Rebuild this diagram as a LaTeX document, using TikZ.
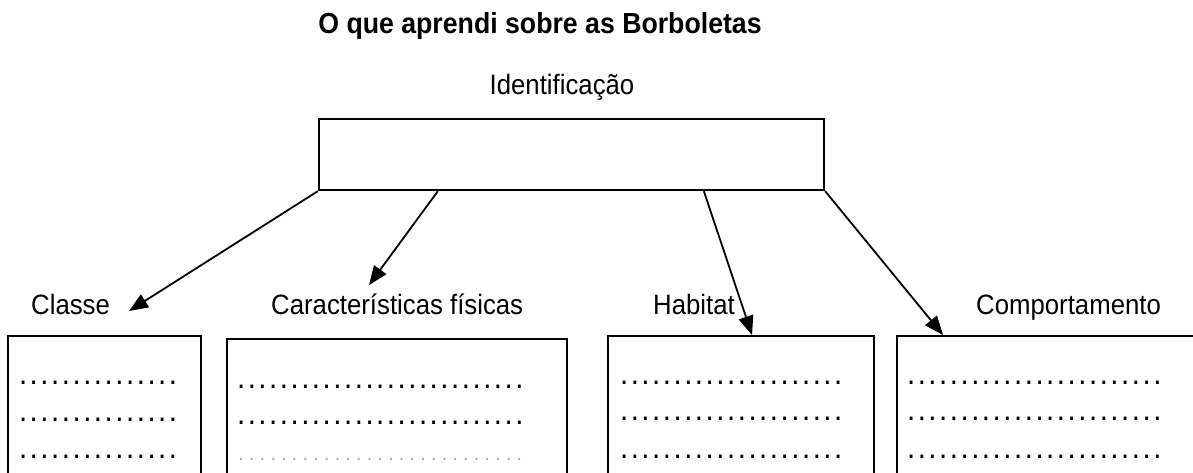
\documentclass[tikz,border=0pt]{standalone}
\usepackage{fontspec}
\setmainfont{Liberation Sans}[FakeStretch=0.92]
\usetikzlibrary{arrows.meta,calc}
\newcommand\dotrow[1]{\foreach \k in {1,...,#1}{\makebox[10.7pt]{.}}}
\begin{document}
\begin{tikzpicture}[x=1pt,y=-1pt,
  lbl/.style={font=\fontsize{28pt}{32pt}\selectfont, inner sep=0pt, anchor=base west},
  frame/.style={draw, line width=2.3pt, inner sep=0pt, anchor=north west, minimum height=200pt},
  conn/.style={line width=1.8pt, -{Triangle[length=19pt,width=15pt]}},
  dotline/.style={font=\fontsize{32pt}{34pt}\selectfont, inner sep=0pt, anchor=base west},
  faint/.style={dotline, text=black!35, font=\fontsize{21pt}{24pt}\selectfont}]
\useasboundingbox (0,0) rectangle (1193,472);
\clip (0,0) rectangle (1193,472);
\node[font=\bfseries\fontsize{29pt}{32pt}\selectfont, inner sep=0pt, anchor=base] (title) at (540,33) {O que aprendi sobre as Borboletas};
\node[font=\fontsize{28pt}{32pt}\selectfont, inner sep=0pt, anchor=base] (idlabel) at (562,94) {Identificação};
\node[draw, line width=2.3pt, minimum width=505pt, minimum height=71pt, inner sep=0pt] (ident) at (571.5,154.5) {};
% labels
\node[lbl] (classe) at (31,314) {Classe};
\node[lbl] (caract) at (271,314) {Características físicas};
\node[lbl] (habitat) at (653,314) {Habitat};
\node[lbl] (comport) at (976,314) {Comportamento};
% boxes
\node[frame, minimum width=193pt] (b1) at (7,335) {};
\node[frame, minimum width=340pt] (b2) at (226,338) {};
\node[frame, minimum width=266pt] (b3) at (607,335) {};
\node[frame, minimum width=400pt] (b4) at (896,335) {};
% dot rows
\node[dotline] (b1r1) at (17.6,384.6) {\dotrow{15}};
\node[dotline] (b1r2) at (17.6,421.6) {\dotrow{15}};
\node[dotline] (b1r3) at (17.6,458.6) {\dotrow{15}};
\node[dotline] (b2r1) at (235.6,388.6) {\dotrow{27}};
\node[dotline] (b2r2) at (235.6,424.6) {\dotrow{27}};
\node[faint] (b2r3) at (235.6,460.6) {\dotrow{27}};
\node[dotline] (b3r1) at (618.6,384.6) {\dotrow{21}};
\node[dotline] (b3r2) at (618.6,420.6) {\dotrow{21}};
\node[dotline] (b3r3) at (618.6,458.6) {\dotrow{21}};
\node[dotline] (b4r1) at (905.6,384.6) {\dotrow{24}};
\node[dotline] (b4r2) at (905.6,420.6) {\dotrow{24}};
\node[dotline] (b4r3) at (905.6,458.6) {\dotrow{24}};
% arrow ends
\coordinate (s2) at ($(ident.south west)+(120,0)$);
\coordinate (s3) at ($(ident.south west)+(386,0)$);
\coordinate (t1) at ($(classe.base west)+(98,-3)$);
\coordinate (t2) at ($(caract.base west)+(98,-29)$);
\coordinate (t3) at ($(b3.north west)+(145,0)$);
\coordinate (t4) at ($(b4.north west)+(47,0)$);
\draw[conn] (ident.south west) -- (t1);
\draw[conn] (s2) -- (t2);
\draw[conn] (s3) -- (t3);
\draw[conn] (ident.south east) -- (t4);
\end{tikzpicture}
\end{document}
